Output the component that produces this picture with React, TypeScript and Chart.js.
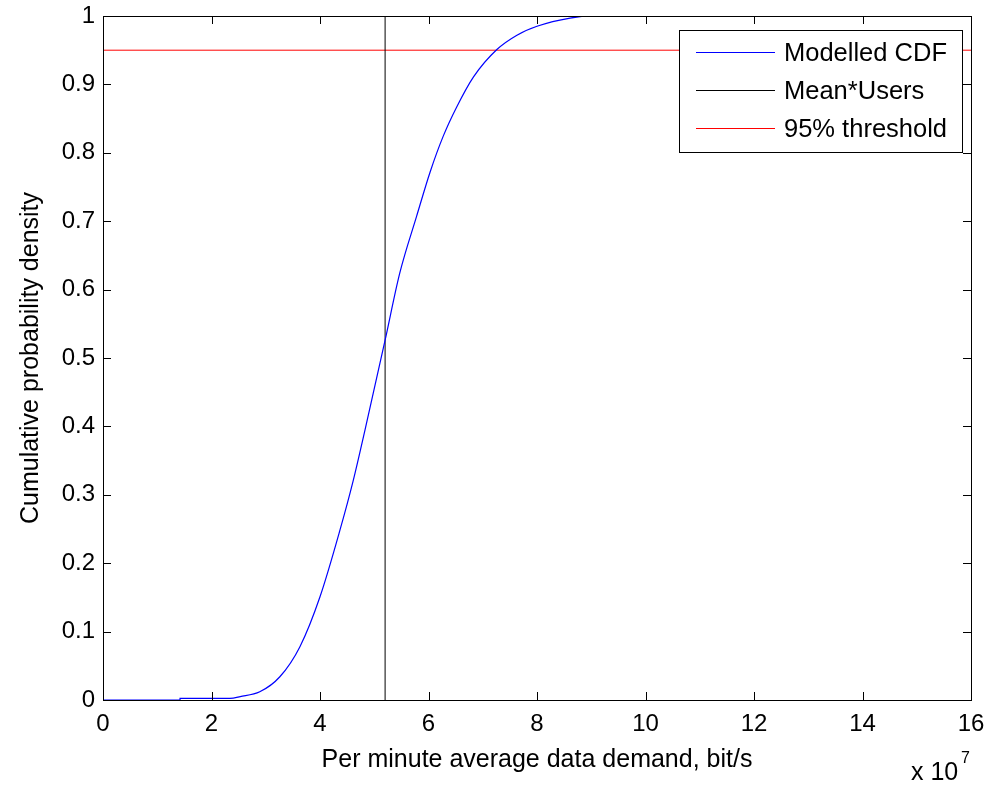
import React, { useEffect, useRef } from "react";
import { Chart, registerables } from "chart.js";

Chart.register(...registerables);

// Values in units of 1e7 bit/s
const EXPONENT = 7;
const cdfX = [0, 1.42, 1.42, 2.34, 2.53, 2.89, 3.26, 3.63, 4.0, 4.37, 4.61, 4.83, 5.2, 5.47, 5.78, 6.03, 6.27, 6.52, 6.83, 7.26, 7.63, 8.0, 8.61, 9.03, 16];
const cdfY = [0, 0, 0.0025, 0.0025, 0.005, 0.012, 0.034, 0.078, 0.151, 0.249, 0.32, 0.395, 0.526, 0.624, 0.707, 0.772, 0.824, 0.867, 0.911, 0.951, 0.972, 0.985, 0.997, 1.0, 1.0];
const meanUsers = 5.2;
const threshold = 0.95;
const xRange = [0, 16];
const yRange = [0, 1];
const xStep = 2;
const yStep = 0.1;
const seriesLabels = ["Modelled CDF", "Mean*Users", "95% threshold"];
const seriesColors = ["#0000ff", "#000000", "#ff0000"];
const xTitle = "Per minute average data demand, bit/s";
const yTitle = "Cumulative probability density";

const FONT = "'Liberation Sans', Arial, Helvetica, sans-serif";

const matlabPlugin = {
  id: "matlabDecor",
  afterDraw(chart: any) {
    const ctx = chart.ctx;
    const { left, right, top, bottom } = chart.chartArea;
    const xs = chart.scales.x;
    const ys = chart.scales.y;
    ctx.save();
    ctx.strokeStyle = "#000";
    ctx.lineWidth = 1;
    // ticks inward on all sides
    const tl = 8;
    ctx.beginPath();
    xs.ticks.forEach((t: any) => {
      const px = Math.round(xs.getPixelForValue(t.value)) + 0.5;
      ctx.moveTo(px, bottom);
      ctx.lineTo(px, bottom - tl);
      ctx.moveTo(px, top);
      ctx.lineTo(px, top + tl);
    });
    ys.ticks.forEach((t: any) => {
      const py = Math.round(ys.getPixelForValue(t.value)) + 0.5;
      ctx.moveTo(left, py);
      ctx.lineTo(left + tl, py);
      ctx.moveTo(right, py);
      ctx.lineTo(right - tl, py);
    });
    ctx.stroke();
    // box
    ctx.strokeRect(Math.round(left) + 0.5, Math.round(top) + 0.5, Math.round(right - left), Math.round(bottom - top));

    // legend
    const lx = 679.5, ly = 30.5, lw = 283, lh = 122;
    ctx.fillStyle = "#fff";
    ctx.fillRect(lx, ly, lw, lh);
    ctx.strokeStyle = "#000";
    ctx.strokeRect(lx, ly, lw, lh);
    ctx.font = `25.5px ${FONT}`;
    ctx.textBaseline = "middle";
    ctx.textAlign = "left";
    const rows = [52.5, 90.5, 128.5];
    seriesLabels.forEach((lab, i) => {
      ctx.strokeStyle = seriesColors[i];
      ctx.beginPath();
      ctx.moveTo(696, rows[i]);
      ctx.lineTo(775, rows[i]);
      ctx.stroke();
      ctx.fillStyle = "#000";
      ctx.fillText(lab, 784, rows[i] + 1);
    });

    // exponent label
    ctx.fillStyle = "#000";
    ctx.textBaseline = "alphabetic";
    ctx.font = `25px ${FONT}`;
    ctx.fillText("x 10", 911, 780);
    ctx.font = `16px ${FONT}`;
    ctx.fillText(String(EXPONENT), 961, 763);
    ctx.restore();
  },
};

export default function App() {
  const ref = useRef<HTMLCanvasElement>(null);
  useEffect(() => {
    if (!ref.current) return;
    const chart = new Chart(ref.current, {
      type: "scatter",
      data: {
        datasets: [
          {
            label: seriesLabels[0],
            data: cdfX.map((x, i) => ({ x, y: cdfY[i] })),
            showLine: true,
            borderColor: seriesColors[0],
            borderWidth: 1.2,
            pointRadius: 0,
            cubicInterpolationMode: "monotone",
          },
          {
            label: seriesLabels[1],
            data: [
              { x: meanUsers, y: yRange[0] },
              { x: meanUsers, y: yRange[1] },
            ],
            showLine: true,
            borderColor: seriesColors[1],
            borderWidth: 1,
            pointRadius: 0,
          },
          {
            label: seriesLabels[2],
            data: [
              { x: xRange[0], y: threshold },
              { x: xRange[1], y: threshold },
            ],
            showLine: true,
            borderColor: seriesColors[2],
            borderWidth: 1,
            pointRadius: 0,
          },
        ],
      },
      options: {
        animation: false,
        responsive: false,
        devicePixelRatio: 1,
        layout: { padding: { left: 0, right: 19, top: 16, bottom: 0 } },
        plugins: { legend: { display: false }, tooltip: { enabled: false } },
        scales: {
          x: {
            type: "linear",
            min: xRange[0],
            max: xRange[1],
            grid: { display: false, drawTicks: false },
            border: { display: false },
            ticks: {
              stepSize: xStep,
              padding: 10,
              color: "#000",
              font: { family: FONT, size: 24 },
              maxRotation: 0,
              callback: (v: any) => String(v),
            },
            title: {
              display: true,
              text: xTitle,
              color: "#000",
              font: { family: FONT, size: 25 },
              padding: { top: 0, bottom: 10 },
            },
            afterFit: (s: any) => {
              s.height = 85;
              s.paddingLeft = 0;
              s.paddingRight = 0;
            },
          },
          y: {
            type: "linear",
            min: yRange[0],
            max: yRange[1],
            grid: { display: false, drawTicks: false },
            border: { display: false },
            ticks: {
              stepSize: yStep,
              padding: 8,
              color: "#000",
              font: { family: FONT, size: 24 },
              callback: (v: any) => String(Number(Number(v).toFixed(1))),
            },
            title: {
              display: true,
              text: yTitle,
              color: "#000",
              font: { family: FONT, size: 25 },
              padding: { top: 16, bottom: 0 },
            },
            afterFit: (s: any) => {
              s.width = 103;
              s.paddingTop = 0;
              s.paddingBottom = 0;
            },
          },
        },
      },
      plugins: [matlabPlugin],
    } as any);
    return () => chart.destroy();
  }, []);
  return (
    <div style={{ position: "absolute", left: 0, top: 0, width: 990, height: 785, background: "#fff" }}>
      <canvas ref={ref} width={990} height={785} style={{ display: "block", width: 990, height: 785 }} />
    </div>
  );
}
